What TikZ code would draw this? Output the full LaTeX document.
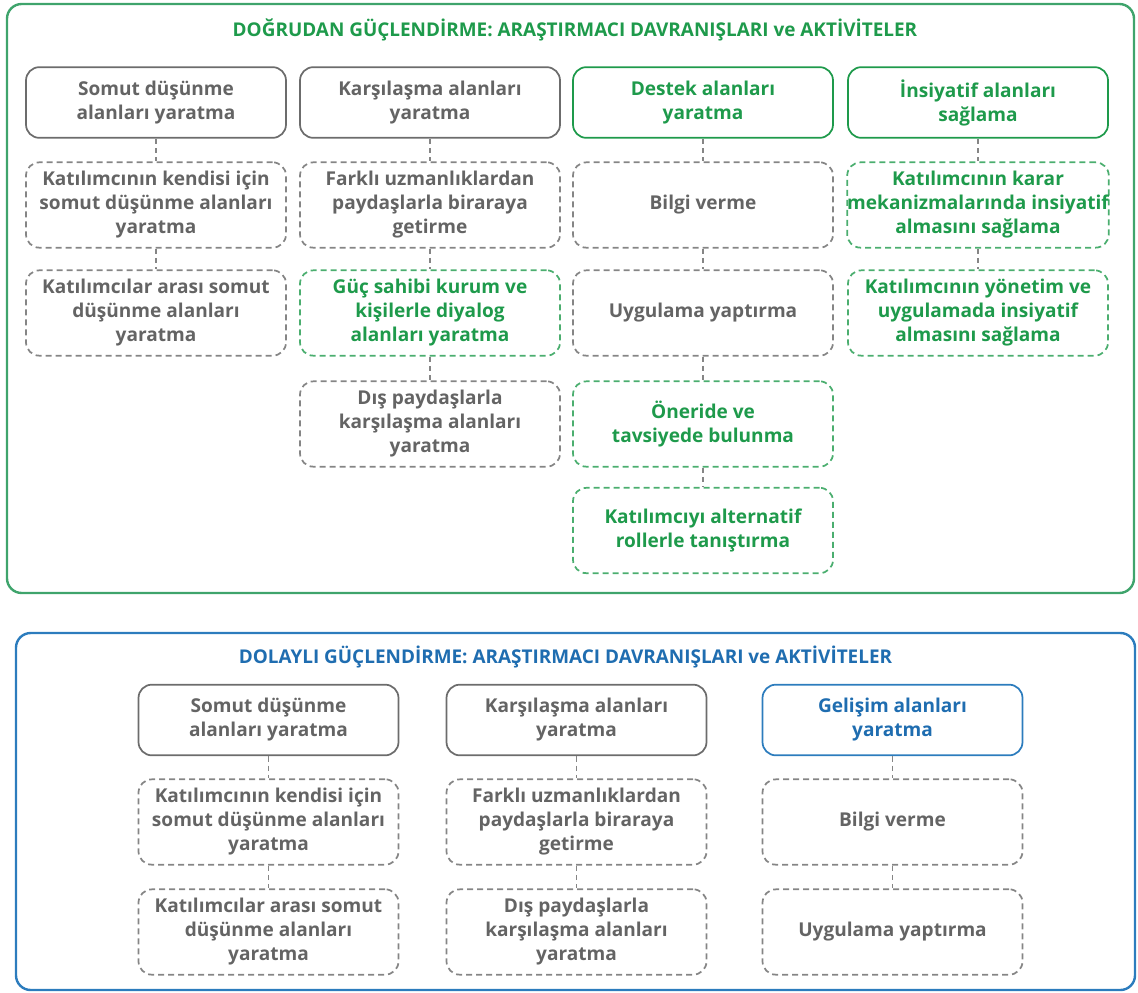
\documentclass[tikz,border=0pt]{standalone}
\usepackage{fontspec}
\setmainfont{Open Sans}
\definecolor{tgreen}{HTML}{1E9A4B}
\definecolor{pgreen}{HTML}{3FA46C}
\definecolor{tblue}{HTML}{1F6DB0}
\definecolor{pblue}{HTML}{2C7CBD}
\definecolor{tgray}{HTML}{646464}
\definecolor{bgray}{HTML}{6C6C6C}
\definecolor{dgray}{HTML}{858585}
\tikzset{
  box/.style={rounded corners=10pt, minimum width=195pt, align=center,
    font=\bfseries\fontsize{14.3}{18}\selectfont, text=tgray, inner sep=0pt, line width=1.3pt},
  hdr/.style={box, draw=bgray, minimum height=53pt},
  hdrg/.style={hdr, draw=tgreen, text=tgreen},
  hdrb/.style={hdr, draw=pblue, text=tblue},
  act/.style={box, draw=dgray, dash pattern=on 4.5pt off 3pt, minimum height=64pt},
  actg/.style={act, draw=tgreen!80!white, text=tgreen},
  conn/.style={draw=dgray, line width=1.2pt, dash pattern=on 4pt off 3pt},
  ttl/.style={font=\bfseries\fontsize{14.2}{16}\selectfont, inner sep=0pt},
  panel/.style={rounded corners=11pt, line width=1.8pt}
}
\begin{document}
\begin{tikzpicture}[x=0.75pt,y=-0.75pt]
\useasboundingbox (0,0) rectangle (1138,992);
% ---------- top panel
\draw[panel, draw=pgreen] (7,4) rectangle (1134,593);
\node[ttl, text=tgreen] (t1) at (575,30) {DOĞRUDAN GÜÇLENDİRME: ARAŞTIRMACI DAVRANIŞLARI ve AKTİVİTELER};
% column 1
\node[hdr] (a0) at (156,102.5) {Somut düşünme\\alanları yaratma};
\node[act] (a1) at (156,205) {Katılımcının kendisi için\\somut düşünme alanları\\yaratma};
\node[act] (a2) at (156,313) {Katılımcılar arası somut\\düşünme alanları\\yaratma};
% column 2
\node[hdr] (b0) at (430,102.5) {Karşılaşma alanları\\yaratma};
\node[act] (b1) at (430,205) {Farklı uzmanlıklardan\\paydaşlarla biraraya\\getirme};
\node[actg] (b2) at (430,313) {Güç sahibi kurum ve\\kişilerle diyalog\\alanları yaratma};
\node[act] (b3) at (430,424) {Dış paydaşlarla\\karşılaşma alanları\\yaratma};
% column 3
\node[hdrg] (c0) at (703,102.5) {Destek alanları\\yaratma};
\node[act] (c1) at (703,205) {Bilgi verme};
\node[act] (c2) at (703,313) {Uygulama yaptırma};
\node[actg] (c3) at (703,424) {Öneride ve\\tavsiyede bulunma};
\node[actg] (c4) at (703,530.5) {Katılımcıyı alternatif\\rollerle tanıştırma};
% column 4
\node[hdrg] (d0) at (978,102.5) {İnsiyatif alanları\\sağlama};
\node[actg] (d1) at (978,205) {Katılımcının karar\\mekanizmalarında insiyatif\\almasını sağlama};
\node[actg] (d2) at (978,313) {Katılımcının yönetim ve\\uygulamada insiyatif\\almasını sağlama};
% connectors
\draw[conn] (a0.south) -- (a1.north);
\draw[conn] (a1.south) -- (a2.north);
\draw[conn] (b0.south) -- (b1.north);
\draw[conn] (b1.south) -- (b2.north);
\draw[conn] (b2.south) -- (b3.north);
\draw[conn] (c0.south) -- (c1.north);
\draw[conn] (c1.south) -- (c2.north);
\draw[conn] (c2.south) -- (c3.north);
\draw[conn] (c3.south) -- (c4.north);
\draw[conn] (d0.south) -- (d1.north);
\draw[conn] (d1.south) -- (d2.north);
% ---------- bottom panel
\draw[panel, draw=pblue] (16,633) rectangle (1135,990);
\node[ttl, text=tblue] (t2) at (565.5,657) {DOLAYLI GÜÇLENDİRME: ARAŞTIRMACI DAVRANIŞLARI ve AKTİVİTELER};
\node[hdr] (e0) at (268.5,720) {Somut düşünme\\alanları yaratma};
\node[act] (e1) at (268.5,822) {Katılımcının kendisi için\\somut düşünme alanları\\yaratma};
\node[act] (e2) at (268.5,932) {Katılımcılar arası somut\\düşünme alanları\\yaratma};
\node[hdr] (f0) at (576.5,720) {Karşılaşma alanları\\yaratma};
\node[act] (f1) at (576.5,822) {Farklı uzmanlıklardan\\paydaşlarla biraraya\\getirme};
\node[act] (f2) at (576.5,932) {Dış paydaşlarla\\karşılaşma alanları\\yaratma};
\node[hdrb] (g0) at (892.5,720) {Gelişim alanları\\yaratma};
\node[act] (g1) at (892.5,822) {Bilgi verme};
\node[act] (g2) at (892.5,932) {Uygulama yaptırma};
\draw[conn] (e0.south) -- (e1.north);
\draw[conn] (e1.south) -- (e2.north);
\draw[conn] (f0.south) -- (f1.north);
\draw[conn] (f1.south) -- (f2.north);
\draw[conn] (g0.south) -- (g1.north);
\draw[conn] (g1.south) -- (g2.north);
\end{tikzpicture}
\end{document}
